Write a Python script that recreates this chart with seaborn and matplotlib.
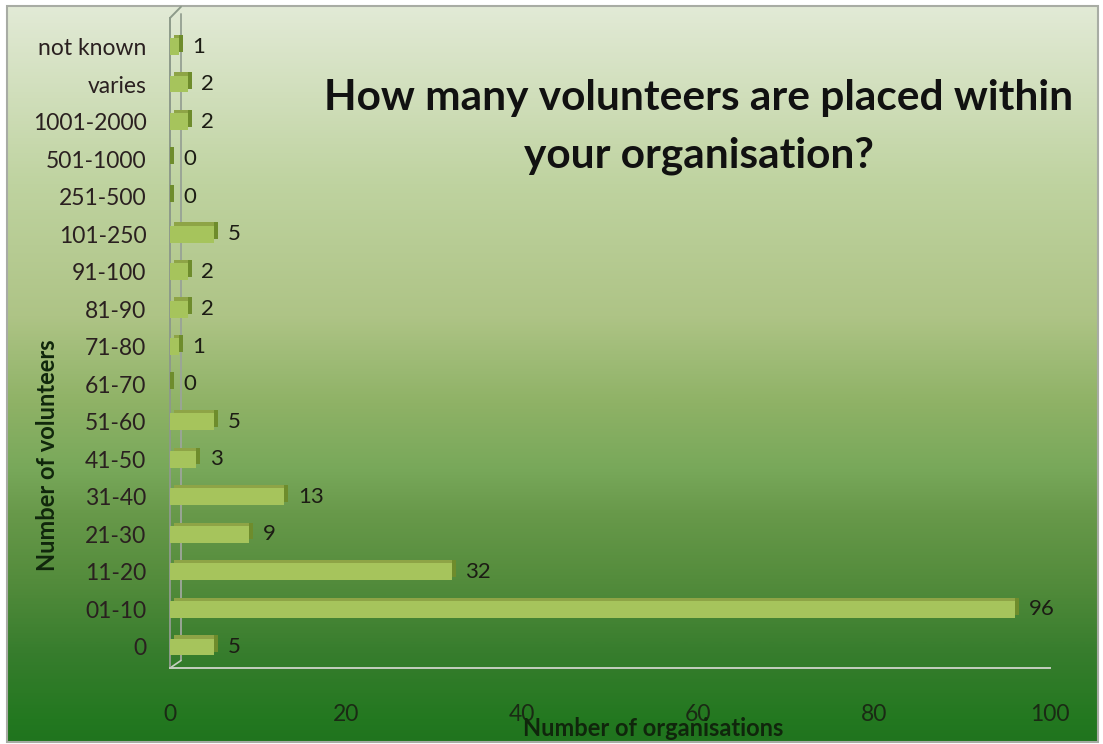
import numpy as np
import matplotlib
matplotlib.use("Agg")
import matplotlib.pyplot as plt
from matplotlib.patches import Rectangle
from matplotlib.colors import LinearSegmentedColormap
import seaborn as sns
import pandas as pd

# Survey answers: number of volunteers placed per organisation
categories = ["not known", "varies", "1001-2000", "501-1000", "251-500", "101-250",
              "91-100", "81-90", "71-80", "61-70", "51-60", "41-50", "31-40",
              "21-30", "11-20", "01-10", "0"]
organisations = [1, 2, 2, 0, 0, 5, 2, 2, 1, 0, 5, 3, 13, 9, 32, 96, 5]
x_ticks = [0, 20, 40, 60, 80, 100]

title = "How many volunteers are placed within\nyour organisation?"
x_label = "Number of organisations"
y_label = "Number of volunteers"

df = pd.DataFrame({"band": categories, "count": organisations})

sns.set_style("white")
plt.rcParams["font.family"] = ["Lato", "DejaVu Sans"]

W, H = 1103, 744
fig = plt.figure(figsize=(W / 100, H / 100), dpi=100)
fig.patch.set_facecolor("white")

# Vertical green gradient behind the whole chart area
bg = fig.add_axes([7 / W, 2 / H, 1091 / W, 736 / H])
stops = [(0.00, (226, 234, 214)), (0.24, (191, 211, 160)), (0.42, (174, 196, 134)),
         (0.54, (143, 178, 102)), (0.63, (120, 168, 90)), (0.69, (104, 153, 74)),
         (0.78, (84, 140, 60)), (0.88, (55, 125, 45)), (0.97, (35, 120, 32)),
         (1.00, (32, 116, 30))]
cmap = LinearSegmentedColormap.from_list(
    "bg", [(p, tuple(c / 255 for c in rgb)) for p, rgb in stops])
grad = np.linspace(0, 1, 512).reshape(-1, 1)
bg.imshow(grad, aspect="auto", cmap=cmap, extent=[0, 1, 0, 1], origin="upper")
bg.set_axis_off()
bg.add_patch(Rectangle((0, 0), 1, 1, transform=bg.transAxes, fill=False,
                       edgecolor="#a8aca4", lw=1.5, clip_on=False))

ax = fig.add_axes([170 / W, (H - 668) / H, 880 / W, 650 / H])
ax.patch.set_alpha(0)

bar_color = "#a6c45c"
sns.barplot(data=df, x="count", y="band", order=categories, orient="h",
            color=bar_color, saturation=1, width=0.45, ax=ax, zorder=3)

n = len(categories)
y_top, y_bottom = -0.76, n - 1 + 0.56
ax.set_xlim(0, 100)
ax.set_ylim(y_bottom, y_top)

# Depth effect: darker end cap and top strip on every bar
depth_x, depth_y = 0.45, 0.09
for p in list(ax.patches):
    x0, y0, w, h = p.get_x(), p.get_y(), p.get_width(), p.get_height()
    p.set_edgecolor("none")
    ax.add_patch(Rectangle((x0 + depth_x, y0 - depth_y), w, depth_y,
                           facecolor="#8ea446", edgecolor="none", zorder=3))
    ax.add_patch(Rectangle((x0 + w, y0 - depth_y), depth_x, h,
                           facecolor="#6e8c2c", edgecolor="none", zorder=3))

# Value labels beside each bar
for i, v in enumerate(organisations):
    ax.annotate(str(v), xy=(v + depth_x, i), xytext=(7, 0), textcoords="offset points",
                va="center", ha="left", fontsize=16, color="#1c1c14", zorder=4)

# Axis lines: front wall edge, back wall edge and floor
for s in ["top", "right"]:
    ax.spines[s].set_visible(False)
ax.spines["left"].set_color("#8d9a8a")
ax.spines["left"].set_linewidth(1.4)
ax.spines["bottom"].set_color("#c5cfc0")
ax.spines["bottom"].set_linewidth(1.4)
back_x = 1.25
ax.plot([back_x, back_x], [y_bottom - 0.2, y_top - 0.1], color="#9aa596", lw=1.4,
        zorder=1, clip_on=False)
ax.plot([0, back_x], [y_top, y_top - 0.3], color="#8d9a8a", lw=1.4, clip_on=False)
ax.plot([0, back_x], [y_bottom, y_bottom - 0.2], color="#c5cfc0", lw=1.2, clip_on=False)

ax.set_xticks(x_ticks)
ax.set_xticklabels([str(t) for t in x_ticks])
ax.tick_params(axis="x", direction="in", length=5, width=1, colors="#c5cfc0",
               labelcolor="#1a2a14", labelsize=16.5, pad=26)
ax.set_yticks(range(n))
ax.set_yticklabels(categories)
ax.tick_params(axis="y", length=0, labelsize=16.5, labelcolor="#2a2020", pad=17)
ax.set_yticks(np.arange(-0.5, n, 1.0), minor=True)
ax.tick_params(axis="y", which="minor", length=6, width=1, color="#8d9a8a",
               direction="out")
ax.set_xlabel("")
ax.set_ylabel("")

fig.text(653 / W, 1 - 728 / H, x_label, ha="center", va="center",
         fontsize=17, fontweight="bold", color="#10260c")
fig.text(48 / W, 1 - 455 / H, y_label, ha="center", va="center", rotation=90,
         fontsize=17, fontweight="bold", color="#10260c")
fig.text(699 / W, 1 - 127 / H, title, ha="center", va="center", fontsize=30.5,
         fontweight="bold", color="#111111", linespacing=1.65)

fig.savefig("out.png", dpi=100)
